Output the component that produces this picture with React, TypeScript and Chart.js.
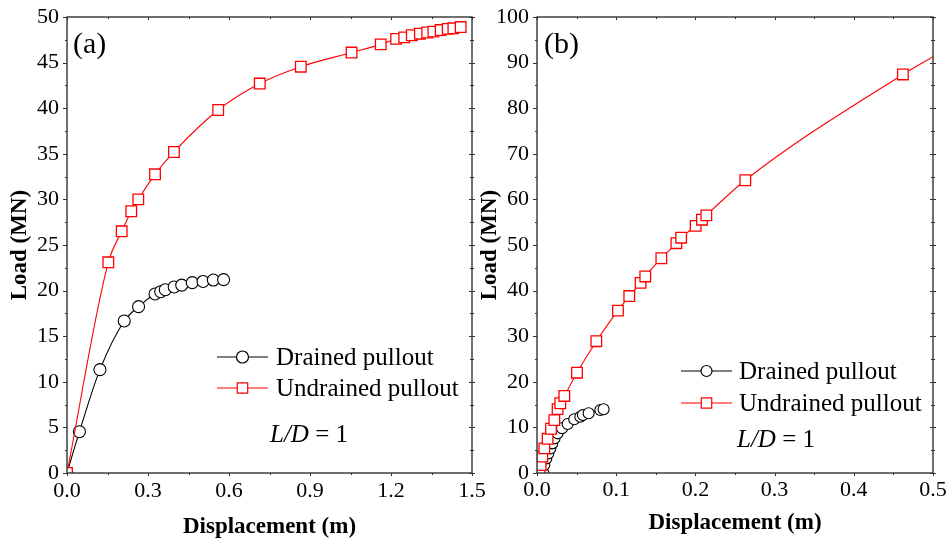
import React, { useEffect, useRef } from 'react';
import { Chart, registerables } from 'chart.js';

Chart.register(...registerables);

// ---------- Panel (a) data ----------
const aDrainedX = [0, 0.046, 0.122, 0.212, 0.265, 0.326, 0.347, 0.364, 0.397, 0.425, 0.464, 0.504, 0.542, 0.58];
const aDrainedY = [0, 4.53, 11.33, 16.67, 18.24, 19.63, 19.88, 20.1, 20.4, 20.6, 20.87, 21.0, 21.16, 21.2];
const aUndrainedX = [0, 0.153, 0.2026, 0.238, 0.264, 0.326, 0.396, 0.56, 0.714, 0.866, 1.054, 1.162, 1.219, 1.249, 1.277, 1.307, 1.334, 1.357, 1.384, 1.41, 1.431, 1.458];
const aUndrainedY = [0, 23.1, 26.5, 28.7, 30.0, 32.75, 35.2, 39.8, 42.7, 44.55, 46.1, 47.0, 47.6, 47.77, 48.0, 48.17, 48.3, 48.4, 48.57, 48.7, 48.76, 48.9];
const aXTickLabels = ['0.0', '0.3', '0.6', '0.9', '1.2', '1.5'];
const aYTickLabels = ['0', '5', '10', '15', '20', '25', '30', '35', '40', '45', '50'];

// ---------- Panel (b) data ----------
const bDrainedX = [0.008, 0.0092, 0.0117, 0.0143, 0.0168, 0.0193, 0.0222, 0.026, 0.0316, 0.0387, 0.047, 0.0547, 0.058, 0.0652, 0.08, 0.0841];
const bDrainedY = [0, 1.75, 3.2, 4.3, 5.4, 6.5, 7.6, 8.7, 9.8, 10.75, 11.8, 12.35, 12.7, 13.1, 13.8, 13.97];
const bUndrainedX = [0.0033, 0.0046, 0.0067, 0.0093, 0.0134, 0.0177, 0.0219, 0.026, 0.0294, 0.0345, 0.0505, 0.0749, 0.1022, 0.1165, 0.1308, 0.1367, 0.157, 0.176, 0.182, 0.2003, 0.2083, 0.2138, 0.263, 0.462, 0.5];
const bUndrainedY = [0.5, 1.75, 3.6, 5.4, 7.5, 9.7, 11.6, 14.0, 15.3, 16.9, 22.0, 28.9, 35.6, 38.8, 41.7, 43.1, 47.1, 50.4, 51.6, 54.2, 55.55, 56.5, 64.2, 87.4, 91.3];
const bXTickLabels = ['0.0', '0.1', '0.2', '0.3', '0.4', '0.5'];
const bYTickLabels = ['0', '10', '20', '30', '40', '50', '60', '70', '80', '90', '100'];

const seriesNames = ['Drained pullout', 'Undrained pullout'];
const panelNames = ['(a)', '(b)'];

const SERIF = '"Liberation Serif", "Times New Roman", serif';

type PanelCfg = {
  width: number;
  padRight: number;
  yWidth: number;
  yTitlePad: number;
  xTickPad: number;
  xTitlePadBottom: number;
  xMax: number;
  xStep: number;
  yMax: number;
  yStep: number;
  xLabels: string[];
  yLabels: string[];
  dX: number[];
  dY: number[];
  uX: number[];
  uY: number[];
  circleR: number;
  squareR: number;
  name: string;
  panelLabel: { x: number; y: number };
  legend: { x0: number; x1: number; y0: number; y1: number; tx: number; circleR: number; squareHalf: number };
  ld: { x: number; y: number };
  hideLastU: boolean;
};

function makePlugin(cfg: PanelCfg) {
  return {
    id: 'frameDecor',
    afterDatasetsDraw(chart: any) {
      const ctx = chart.ctx;
      const { left, right, top, bottom } = chart.chartArea;
      const xs = chart.scales.x;
      const ys = chart.scales.y;
      const xv = xs.ticks.map((t: any) => t.value);
      const yv = ys.ticks.map((t: any) => t.value);
      const xm: number[] = [];
      for (let i = 0; i < xv.length - 1; i++) xm.push((xv[i] + xv[i + 1]) / 2);
      const ym: number[] = [];
      for (let i = 0; i < yv.length - 1; i++) ym.push((yv[i] + yv[i + 1]) / 2);
      ctx.save();
      ctx.strokeStyle = '#333';
      ctx.lineWidth = 1.4;
      ctx.strokeRect(left, top, right - left, bottom - top);
      ctx.lineWidth = 1;
      ctx.beginPath();
      const tick = (vals: number[], major: boolean) => {
        vals.forEach((v) => {
          const px = Math.round(xs.getPixelForValue(v)) + 0.5;
          ctx.moveTo(px, bottom);
          ctx.lineTo(px, bottom + (major ? 3 : 2));
          ctx.moveTo(px, top);
          ctx.lineTo(px, top + (major ? 3 : 2));
        });
      };
      const tickY = (vals: number[], major: boolean) => {
        vals.forEach((v) => {
          const py = Math.round(ys.getPixelForValue(v)) + 0.5;
          ctx.moveTo(left, py);
          ctx.lineTo(left - (major ? 4 : 2), py);
          ctx.moveTo(right - (major ? 3 : 2), py);
          ctx.lineTo(right + (major ? 3 : 2), py);
        });
      };
      tick(xv, true);
      tick(xm, false);
      tickY(yv, true);
      tickY(ym, false);
      ctx.stroke();
      ctx.restore();
    },
    afterDraw(chart: any) {
      const ctx = chart.ctx;
      ctx.save();
      // panel label
      ctx.fillStyle = '#000';
      ctx.font = `30px ${SERIF}`;
      ctx.textBaseline = 'middle';
      ctx.textAlign = 'left';
      ctx.fillText(cfg.name, cfg.panelLabel.x, cfg.panelLabel.y);

      // legend
      const L = cfg.legend;
      const items = [
        { label: chart.data.datasets[0].label, color: '#000', y: L.y0, kind: 'circle' },
        { label: chart.data.datasets[1].label, color: '#ff0000', y: L.y1, kind: 'rect' },
      ];
      ctx.font = `25px ${SERIF}`;
      ctx.textBaseline = 'alphabetic';
      items.forEach((it) => {
        ctx.strokeStyle = it.color;
        ctx.lineWidth = 1.2;
        ctx.beginPath();
        ctx.moveTo(L.x0, it.y);
        ctx.lineTo(L.x1, it.y);
        ctx.stroke();
        const cx = (L.x0 + L.x1) / 2;
        ctx.fillStyle = '#fff';
        ctx.beginPath();
        if (it.kind === 'circle') {
          ctx.arc(cx, it.y, L.circleR, 0, Math.PI * 2);
        } else {
          ctx.rect(cx - L.squareHalf, it.y - L.squareHalf, L.squareHalf * 2, L.squareHalf * 2);
        }
        ctx.fill();
        ctx.stroke();
        ctx.fillStyle = '#000';
        ctx.fillText(it.label, L.tx, it.y + 7.5);
      });

      // L/D = 1
      ctx.font = `italic 25px ${SERIF}`;
      ctx.fillText('L/D', cfg.ld.x, cfg.ld.y);
      const w = ctx.measureText('L/D').width;
      ctx.font = `25px ${SERIF}`;
      ctx.fillText(' = 1', cfg.ld.x + w, cfg.ld.y);
      ctx.restore();
    },
  };
}

function buildChart(canvas: HTMLCanvasElement, cfg: PanelCfg) {
  const drained = cfg.dX.map((x, i) => ({ x, y: cfg.dY[i] }));
  const undrained = cfg.uX.map((x, i) => ({ x, y: cfg.uY[i] }));
  const lastU = undrained.length - 1;
  return new Chart(canvas, {
    type: 'line',
    data: {
      datasets: [
        {
          label: seriesNames[0],
          data: drained,
          borderColor: '#000',
          borderWidth: 1.1,
          backgroundColor: '#fff',
          pointBackgroundColor: '#fff',
          pointBorderColor: '#000',
          pointBorderWidth: 1.1,
          pointStyle: 'circle',
          pointRadius: cfg.circleR,
          cubicInterpolationMode: 'monotone',
          order: 2,
        },
        {
          label: seriesNames[1],
          data: undrained,
          borderColor: '#ff0000',
          borderWidth: 1.1,
          backgroundColor: '#fff',
          pointBackgroundColor: '#fff',
          pointBorderColor: '#ff0000',
          pointBorderWidth: 1.3,
          pointStyle: 'rect',
          pointRadius: (c: any) => (cfg.hideLastU && c.dataIndex === lastU ? 0 : cfg.squareR),
          cubicInterpolationMode: 'monotone',
          order: 1,
        },
      ],
    },
    options: {
      animation: false,
      responsive: false,
      events: [],
      layout: { padding: { left: 0, top: 17, right: cfg.padRight, bottom: 0 } },
      plugins: { legend: { display: false }, tooltip: { enabled: false } },
      scales: {
        x: {
          type: 'linear',
          min: 0,
          max: cfg.xMax,
          grid: { display: false, drawTicks: false },
          border: { display: false },
          ticks: {
            stepSize: cfg.xStep,
            autoSkip: false,
            maxRotation: 0,
            padding: cfg.xTickPad,
            color: '#000',
            font: { family: SERIF, size: 22 },
            callback: (_v: any, i: number) => cfg.xLabels[i],
          },
          title: {
            display: true,
            text: 'Displacement (m)',
            color: '#000',
            font: { family: SERIF, size: 23, weight: 'bold' },
            padding: { top: 2, bottom: cfg.xTitlePadBottom },
          },
          afterFit: (s: any) => {
            s.height = 69;
            s.paddingLeft = 0;
            s.paddingRight = 0;
          },
        },
        y: {
          type: 'linear',
          min: 0,
          max: cfg.yMax,
          grid: { display: false, drawTicks: false },
          border: { display: false },
          ticks: {
            stepSize: cfg.yStep,
            autoSkip: false,
            padding: 8,
            color: '#000',
            font: { family: SERIF, size: 22 },
            callback: (_v: any, i: number) => cfg.yLabels[i],
          },
          title: {
            display: true,
            text: 'Load (MN)',
            color: '#000',
            font: { family: SERIF, size: 23, weight: 'bold' },
            padding: { top: cfg.yTitlePad, bottom: 0 },
          },
          afterFit: (s: any) => {
            s.width = cfg.yWidth;
            s.paddingTop = 0;
            s.paddingBottom = 0;
          },
        },
      },
    } as any,
    plugins: [makePlugin(cfg) as any],
  });
}

const cfgA: PanelCfg = {
  width: 520,
  padRight: 48,
  yWidth: 67,
  yTitlePad: 6,
  xTickPad: 5,
  xTitlePadBottom: 1,
  xMax: 1.5,
  xStep: 0.3,
  yMax: 50,
  yStep: 5,
  xLabels: aXTickLabels,
  yLabels: aYTickLabels,
  dX: aDrainedX,
  dY: aDrainedY,
  uX: aUndrainedX,
  uY: aUndrainedY,
  circleR: 6,
  squareR: 7.5,
  name: panelNames[0],
  panelLabel: { x: 73, y: 45 },
  legend: { x0: 217, x1: 268, y0: 357, y1: 388, tx: 276, circleR: 6, squareHalf: 5.2 },
  ld: { x: 270, y: 442 },
  hideLastU: false,
};

const cfgB: PanelCfg = {
  width: 474,
  padRight: 15,
  yWidth: 63,
  yTitlePad: 2,
  xTickPad: 4,
  xTitlePadBottom: 5,
  xMax: 0.5,
  xStep: 0.1,
  yMax: 100,
  yStep: 10,
  xLabels: bXTickLabels,
  yLabels: bYTickLabels,
  dX: bDrainedX,
  dY: bDrainedY,
  uX: bUndrainedX,
  uY: bUndrainedY,
  circleR: 5.5,
  squareR: 7.5,
  name: panelNames[1],
  panelLabel: { x: 70, y: 45 },
  legend: { x0: 207, x1: 258, y0: 371, y1: 403, tx: 265, circleR: 5.5, squareHalf: 5.2 },
  ld: { x: 263, y: 447 },
  hideLastU: true,
};

export default function App() {
  const refA = useRef<HTMLCanvasElement>(null);
  const refB = useRef<HTMLCanvasElement>(null);
  useEffect(() => {
    const a = buildChart(refA.current!, cfgA);
    const b = buildChart(refB.current!, cfgB);
    return () => {
      a.destroy();
      b.destroy();
    };
  }, []);
  return (
    <div style={{ position: 'absolute', left: 0, top: 0, width: 948, height: 542, background: '#fff', overflow: 'hidden' }}>
      <canvas
        ref={refA}
        width={520}
        height={542}
        style={{ position: 'absolute', left: 0, top: 0, width: 520, height: 542 }}
      />
      <canvas
        ref={refB}
        width={474}
        height={542}
        style={{ position: 'absolute', left: 474, top: 0, width: 474, height: 542 }}
      />
    </div>
  );
}
